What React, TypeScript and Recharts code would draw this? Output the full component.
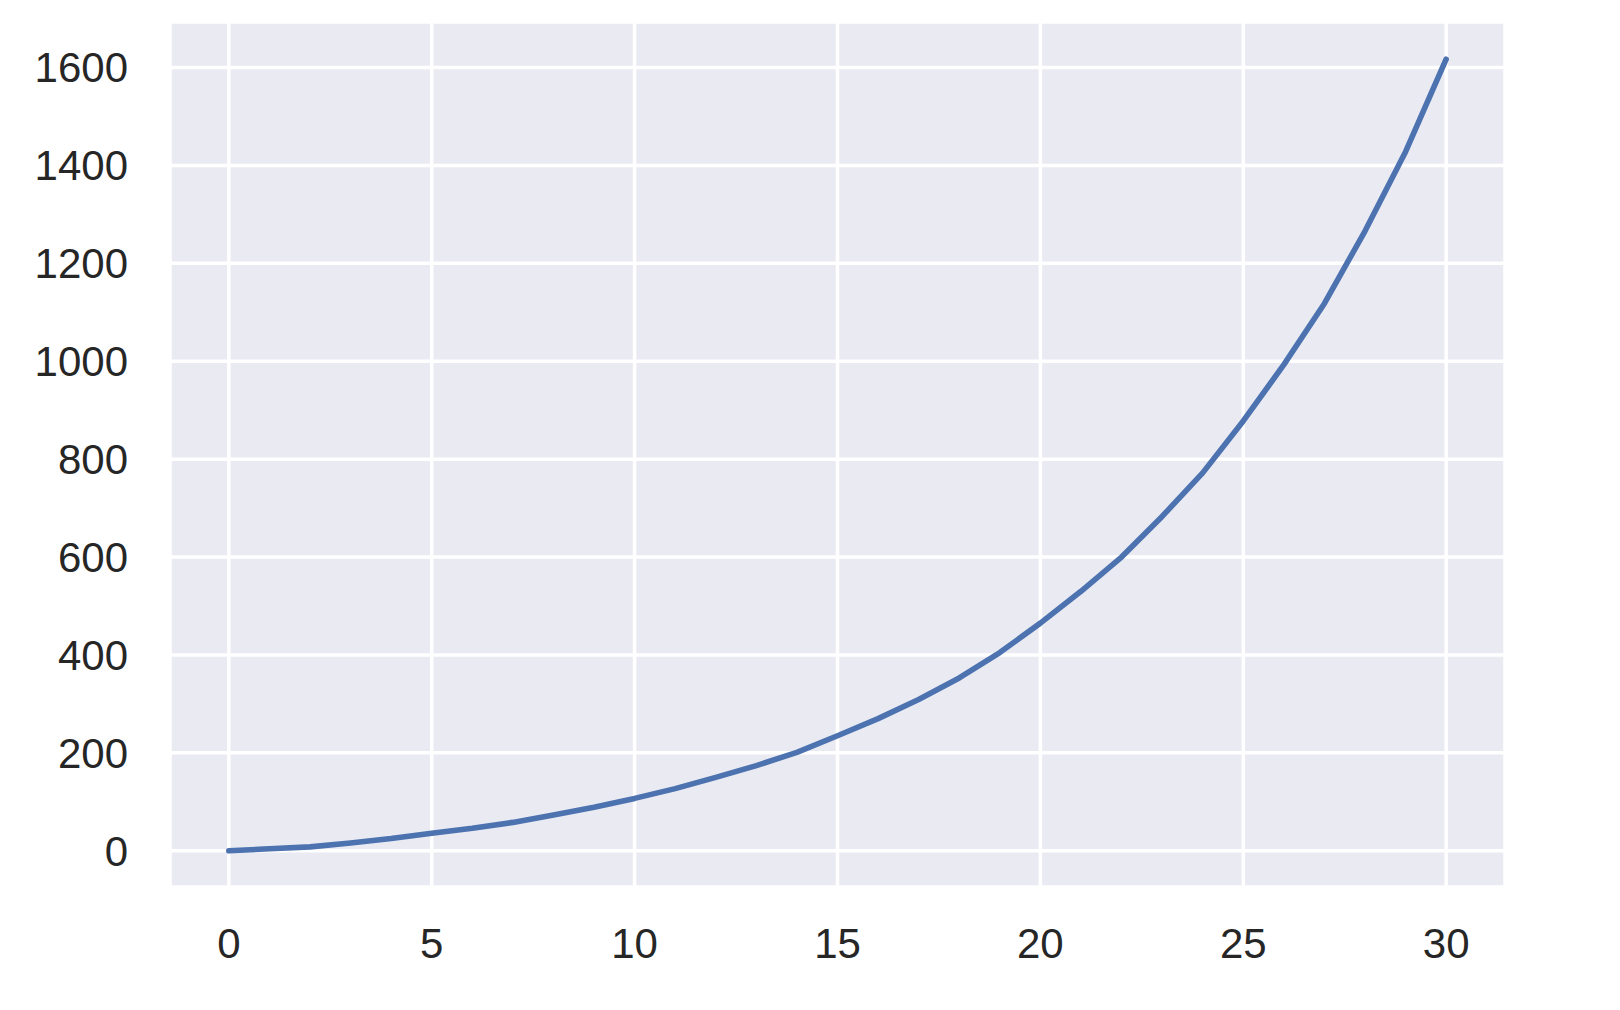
import React from 'react';
import { LineChart, Line, XAxis, YAxis, CartesianGrid } from 'recharts';

const xValues: number[] = [
  0, 1, 2, 3, 4, 5, 6, 7, 8, 9, 10, 11, 12, 13, 14, 15,
  16, 17, 18, 19, 20, 21, 22, 23, 24, 25, 26, 27, 28, 29, 30,
];
const yValues: number[] = [
  0, 4, 8, 16, 25, 36, 46, 58, 73, 89, 107, 127, 150, 174, 201, 235,
  270, 309, 353, 405, 465, 530, 600, 683, 772, 878, 993, 1118, 1266, 1428, 1617,
];
const xTicks: number[] = [0, 5, 10, 15, 20, 25, 30];
const yTicks: number[] = [0, 200, 400, 600, 800, 1000, 1200, 1400, 1600];

const data = xValues.map((x, i) => ({ x, y: yValues[i] }));

const tickStyle = {
  fill: '#262626',
  fontSize: 42,
  fontFamily: '"Liberation Sans", Arial, sans-serif',
};

export default function App() {
  return (
    <div style={{ position: 'absolute', left: 0, top: 0, width: 1620, height: 1010, background: '#fff' }}>
      <LineChart
        width={1620}
        height={1010}
        data={data}
        margin={{ top: 22, right: 115, bottom: 63, left: 0 }}
      >
        <CartesianGrid fill="#EAEAF2" stroke="#ffffff" strokeWidth={3.5} />
        <XAxis
          dataKey="x"
          type="number"
          domain={[-1.45, 31.45]}
          ticks={xTicks}
          allowDataOverflow
          axisLine={false}
          tickLine={false}
          tickSize={0}
          tickMargin={41}
          height={60}
          tick={tickStyle}
          interval={0}
        />
        <YAxis
          type="number"
          domain={[-74, 1693]}
          ticks={yTicks}
          allowDataOverflow
          axisLine={false}
          tickLine={false}
          tickSize={0}
          tickMargin={42}
          width={170}
          tick={tickStyle}
          interval={0}
        />
        <Line
          dataKey="y"
          type="linear"
          stroke="#4C72B0"
          strokeWidth={5.6}
          strokeLinecap="round"
          strokeLinejoin="round"
          dot={false}
          activeDot={false}
          isAnimationActive={false}
        />
      </LineChart>
    </div>
  );
}
